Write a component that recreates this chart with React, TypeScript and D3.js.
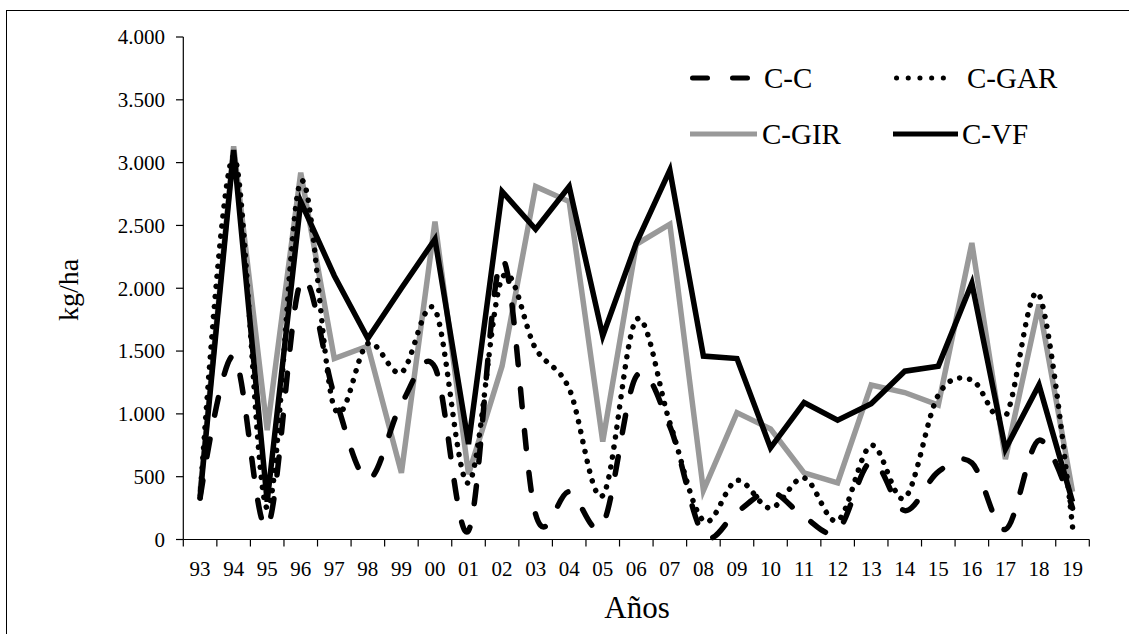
import React from 'react';
import * as d3 from 'd3';

const years = ['93','94','95','96','97','98','99','00','01','02','03','04','05','06','07','08','09','10','11','12','13','14','15','16','17','18','19'];
const cc    = [330,1460,100,2050,1150,480,1080,1370,70,2230,200,380,120,1300,900,40,220,380,180,70,620,230,540,610,80,790,250];
const cgar  = [330,3050,250,2850,1050,1560,1330,1830,450,2080,1520,1200,350,1750,930,150,470,250,490,150,750,330,1150,1270,980,1950,100];
const cgir  = [380,3130,870,2920,1440,1540,530,2530,520,1380,2810,2690,780,2350,2510,390,1010,880,530,450,1230,1170,1070,2360,640,1870,380];
const cvf   = [340,3100,300,2690,2100,1600,2000,2390,760,2770,2470,2810,1620,2360,2940,1460,1440,730,1090,950,1080,1340,1380,2040,720,1230,300];
const yTicks = [0,500,1000,1500,2000,2500,3000,3500,4000];

const W = 1129, H = 634;
const FONT = '"Liberation Serif", "Times New Roman", serif';

type S = { name: string; values: number[]; color: string; dash?: string; smooth: boolean };
const series: S[] = [
  { name: 'C-GIR', values: cgir, color: '#999999', smooth: false },
  { name: 'C-VF', values: cvf, color: '#000000', smooth: false },
  { name: 'C-GAR', values: cgar, color: '#000000', dash: '0.1,10', smooth: true },
  { name: 'C-C', values: cc, color: '#000000', dash: '18,24', smooth: true },
];

export default function App() {
  const x = d3.scaleBand<string>().domain(years).range([183.3, 1089.3]);
  const y = d3.scaleLinear().domain([0, 4000]).range([539.5, 37]);
  const fmt = (v: number) => (v >= 1000 ? d3.format(',')(v).replace(/,/g, '.') : String(v));

  const mk = (smooth: boolean) =>
    d3.line<number>()
      .x((_, i) => (x(years[i]) as number) + x.bandwidth() / 2)
      .y((d) => y(d))
      .curve(smooth ? d3.curveCardinal.tension(0) : d3.curveLinear);

  const legend = [
    { name: 'C-C', x0: 690, x1: 750, ly: 78, tx: 764, color: '#000', dash: '15,25', w: 5 },
    { name: 'C-GAR', x0: 894, x1: 952, ly: 78, tx: 967, color: '#000', dash: '0.1,11.6', w: 5 },
    { name: 'C-GIR', x0: 690, x1: 757, ly: 134, tx: 762, color: '#999999', dash: undefined, w: 5 },
    { name: 'C-VF', x0: 893, x1: 958, ly: 134, tx: 962, color: '#000', dash: undefined, w: 5 },
  ];

  return (
    <svg width={W} height={H} style={{ position: 'absolute', left: 0, top: 0, background: '#fff' }} fontFamily={FONT}>
      <rect x={0} y={0} width={W} height={H} fill="#fff" />
      <line x1={6.5} y1={10} x2={6.5} y2={H} stroke="#000" strokeWidth={1} />
      <line x1={6} y1={10.5} x2={W} y2={10.5} stroke="#000" strokeWidth={1} />

      {/* y axis */}
      <line x1={183.3} y1={37} x2={183.3} y2={539.5} stroke="#000" strokeWidth={1.2} />
      {yTicks.map((t) => (
        <g key={t}>
          <line x1={176} x2={183.3} y1={y(t)} y2={y(t)} stroke="#000" strokeWidth={1.2} />
          <text x={165} y={y(t)} dy="0.35em" textAnchor="end" fontSize={21}>{fmt(t)}</text>
        </g>
      ))}
      {/* x axis */}
      <line x1={183.3} y1={539.5} x2={1089.3} y2={539.5} stroke="#000" strokeWidth={1.2} />
      {years.map((c, i) => (
        <line key={'t' + c} x1={183.3 + i * x.step()} x2={183.3 + i * x.step()} y1={539.5} y2={546.5} stroke="#000" strokeWidth={1.2} />
      ))}
      <line x1={1089.3} x2={1089.3} y1={539.5} y2={546.5} stroke="#000" strokeWidth={1.2} />
      {years.map((c) => (
        <text key={'l' + c} x={(x(c) as number) + x.bandwidth() / 2} y={576} textAnchor="middle" fontSize={21}>{c}</text>
      ))}

      <text x={637} y={618} textAnchor="middle" fontSize={31}>Años</text>
      <text transform="translate(78,290) rotate(-90)" textAnchor="middle" fontSize={28}>kg/ha</text>

      {series.map((s) => (
        <path key={s.name} d={mk(s.smooth)(s.values) || ''} fill="none" stroke={s.color} strokeWidth={5.5}
          strokeDasharray={s.dash} strokeLinecap={s.dash ? 'round' : 'butt'} strokeLinejoin="miter" />
      ))}

      {legend.map((l) => (
        <g key={l.name}>
          <line x1={l.x0 + (l.dash ? 2.5 : 0)} x2={l.x1 - (l.dash ? 2.5 : 0)} y1={l.ly} y2={l.ly} stroke={l.color} strokeWidth={l.w}
            strokeDasharray={l.dash} strokeLinecap={l.dash ? 'round' : 'butt'} />
          <text x={l.tx} y={l.ly} dy="0.35em" fontSize={29}>{l.name}</text>
        </g>
      ))}
    </svg>
  );
}
